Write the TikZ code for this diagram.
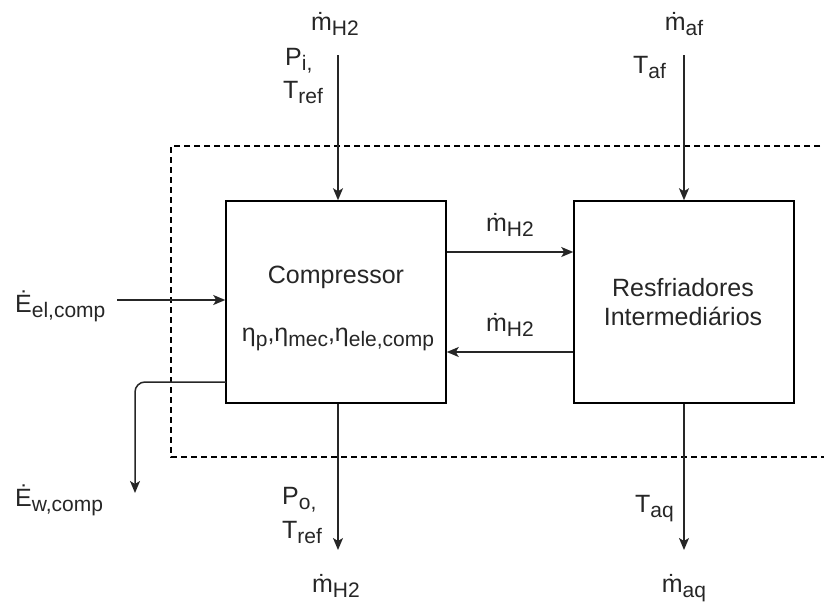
\documentclass[tikz,border=0pt]{standalone}
\usepackage{fontspec}
\setmainfont{Liberation Sans}
\usetikzlibrary{arrows.meta}

% m with a dot above (mass flow rate)
\newcommand{\mflow}{\ooalign{m\cr\hidewidth\char"02D9\hidewidth\cr}}
% lowered, smaller subscript
\newcommand{\sbs}[1]{\raisebox{-5pt}{\fontsize{21}{21}\selectfont #1}}

\tikzset{
  txt/.style={inner sep=0pt, text=black!85, font=\fontsize{25}{29}\selectfont},
  block/.style={draw=black, line width=1.5pt, minimum width=220pt, minimum height=202pt, inner sep=0pt},
  flow/.style={draw=black!85, line width=1.5pt, -{Stealth[length=12pt,width=10pt,inset=3pt]}},
  border/.style={draw=black, line width=1.5pt, dash pattern=on 6pt off 4pt}
}

\begin{document}
\begin{tikzpicture}[x=1pt,y=-1pt]
  \useasboundingbox (0,0) rectangle (824,608);

  % control volume (open on the right)
  \draw[border] (830,146) -- (171,146) -- (171,457) -- (830,457);

  % blocks
  \node[block] (comp) at (336,302) {};
  \node[block] (cool) at (684,302) {};

  % block texts
  \node[txt, anchor=base] (comptxt) at (336,283) {Compressor};
  \node[txt, anchor=base] (etatxt) at (338,341) {η\sbs{p},η\sbs{mec},η\sbs{ele,comp}};
  \node[txt, anchor=base] (cool1) at (683,296) {Resfriadores};
  \node[txt, anchor=base] (cool2) at (683,325) {Intermediários};

  % free ends of connectors
  \coordinate (hin)  at (338,55);
  \coordinate (hout) at (338,550);
  \coordinate (afin) at (684,55);
  \coordinate (aqout) at (684,550);
  \coordinate (elin) at (117,300);
  \coordinate (wout) at (226,382);
  \coordinate (wend) at (135,493);

  % hydrogen in / out
  \draw[flow] (hin) -- (hin |- comp.north);
  \draw[flow] (hout |- comp.south) -- (hout);
  % cooling water in / out
  \draw[flow] (afin) -- (afin |- cool.north);
  \draw[flow] (aqout |- cool.south) -- (aqout);
  % hydrogen between compressor and intercoolers
  \draw[flow] (comp.east |- 0,252) -- (cool.west |- 0,252);
  \draw[flow] (cool.west |- 0,352) -- (comp.east |- 0,352);
  % electric power in
  \draw[flow] (elin) -- (comp.west |- elin);
  % losses out
  \draw[flow, rounded corners=10pt] (wout) -- (wend |- wout) -- (wend);

  % labels
  \node[txt, anchor=base] (lhin) at (335,30) {\mflow\sbs{H2}};
  \node[txt, anchor=base west] (lpi) at (285,65) {P\sbs{i,}};
  \node[txt, anchor=base west] (ltin) at (283,98) {T\sbs{ref}};
  \node[txt, anchor=base] (lafin) at (684,30) {\mflow\sbs{af}};
  \node[txt, anchor=base west] (ltaf) at (633,73) {T\sbs{af}};
  \node[txt, anchor=base west] (lel) at (15,312) {Ė\sbs{el,comp}};
  \node[txt, anchor=base west] (lw) at (15,506) {Ė\sbs{w,comp}};
  \node[txt, anchor=base] (lh1) at (510,231) {\mflow\sbs{H2}};
  \node[txt, anchor=base] (lh2) at (510,331) {\mflow\sbs{H2}};
  \node[txt, anchor=base west] (lpo) at (282,504) {P\sbs{o,}};
  \node[txt, anchor=base west] (ltout) at (282,538) {T\sbs{ref}};
  \node[txt, anchor=base] (lhout) at (336,592) {\mflow\sbs{H2}};
  \node[txt, anchor=base west] (ltaq) at (635,512) {T\sbs{aq}};
  \node[txt, anchor=base] (laq) at (684,592) {\mflow\sbs{aq}};
\end{tikzpicture}
\end{document}
